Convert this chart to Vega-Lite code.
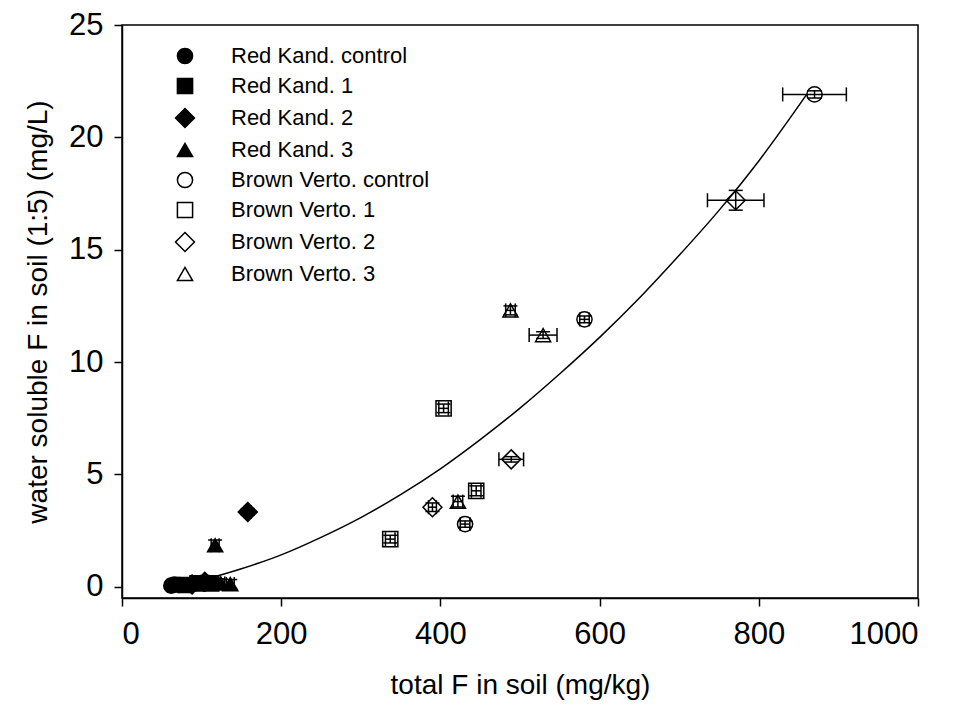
{
  "$schema": "https://vega.github.io/schema/vega-lite/v6.json",
  "width": 796,
  "height": 573,
  "autosize": "none",
  "padding": {"left": 122, "top": 25, "right": 35, "bottom": 112},
  "background": "white",
  "config": {
    "font": "Liberation Sans",
    "view": {"stroke": "black", "strokeWidth": 1.5},
    "axis": {
      "grid": false,
      "domainColor": "black",
      "domainWidth": 1.5,
      "tickColor": "black",
      "tickWidth": 1.5,
      "tickSize": 8,
      "labelColor": "black",
      "labelFontSize": 31,
      "labelFont": "Liberation Sans",
      "titleColor": "black",
      "titleFontSize": 28,
      "titleFont": "Liberation Sans",
      "titleFontWeight": "normal",
      "format": "d"
    }
  },
  "datasets": {
    "pts": [
      {"series": "Red Kand. control", "x": 62, "y": 0.05, "xlo": 57, "xhi": 67, "ylo": -0.1, "yhi": 0.2},
      {"series": "Red Kand. control", "x": 66, "y": 0.1, "xlo": 61, "xhi": 71, "ylo": -0.05, "yhi": 0.25},
      {"series": "Red Kand. control", "x": 72, "y": 0.08, "xlo": 67, "xhi": 77, "ylo": -0.07, "yhi": 0.23},
      {"series": "Red Kand. 1", "x": 80, "y": 0.08, "xlo": 75, "xhi": 85, "ylo": -0.07, "yhi": 0.23},
      {"series": "Red Kand. 1", "x": 95, "y": 0.15, "xlo": 90, "xhi": 100, "ylo": 0.0, "yhi": 0.3},
      {"series": "Red Kand. 1", "x": 112, "y": 0.15, "xlo": 107, "xhi": 117, "ylo": 0.0, "yhi": 0.3},
      {"series": "Red Kand. 2", "x": 158, "y": 3.33, "xlo": 154, "xhi": 162, "ylo": 3.18, "yhi": 3.48},
      {"series": "Red Kand. 2", "x": 88, "y": 0.1, "xlo": 83, "xhi": 93, "ylo": -0.05, "yhi": 0.25},
      {"series": "Red Kand. 2", "x": 104, "y": 0.22, "xlo": 99, "xhi": 109, "ylo": 0.07, "yhi": 0.37},
      {"series": "Red Kand. 3", "x": 117, "y": 1.85, "xlo": 112, "xhi": 122, "ylo": 1.62, "yhi": 2.08},
      {"series": "Red Kand. 3", "x": 124, "y": 0.15, "xlo": 119, "xhi": 129, "ylo": -0.05, "yhi": 0.35},
      {"series": "Red Kand. 3", "x": 136, "y": 0.12, "xlo": 131, "xhi": 141, "ylo": -0.08, "yhi": 0.32},
      {"series": "Brown Verto. control", "x": 431, "y": 2.79, "xlo": 425, "xhi": 437, "ylo": 2.65, "yhi": 2.93},
      {"series": "Brown Verto. control", "x": 581, "y": 11.9, "xlo": 575, "xhi": 587, "ylo": 11.75, "yhi": 12.05},
      {"series": "Brown Verto. control", "x": 870, "y": 21.91, "xlo": 830, "xhi": 910, "ylo": 21.75, "yhi": 22.07},
      {"series": "Brown Verto. 1", "x": 337, "y": 2.12, "xlo": 331, "xhi": 343, "ylo": 1.95, "yhi": 2.29},
      {"series": "Brown Verto. 1", "x": 404, "y": 7.94, "xlo": 398, "xhi": 410, "ylo": 7.75, "yhi": 8.13},
      {"series": "Brown Verto. 1", "x": 445, "y": 4.27, "xlo": 439, "xhi": 451, "ylo": 4.05, "yhi": 4.49},
      {"series": "Brown Verto. 2", "x": 390, "y": 3.54, "xlo": 385, "xhi": 395, "ylo": 3.35, "yhi": 3.73},
      {"series": "Brown Verto. 2", "x": 489, "y": 5.67, "xlo": 473.5, "xhi": 504.5, "ylo": 5.55, "yhi": 5.79},
      {"series": "Brown Verto. 2", "x": 771, "y": 17.2, "xlo": 735.5, "xhi": 806.5, "ylo": 16.76, "yhi": 17.64},
      {"series": "Brown Verto. 3", "x": 422, "y": 3.79, "xlo": 416, "xhi": 428, "ylo": 3.55, "yhi": 4.03},
      {"series": "Brown Verto. 3", "x": 488, "y": 12.3, "xlo": 482, "xhi": 494, "ylo": 12.1, "yhi": 12.5},
      {"series": "Brown Verto. 3", "x": 529, "y": 11.2, "xlo": 511.5, "xhi": 546.5, "ylo": 11.05, "yhi": 11.35}
    ],
    "curve": [
      {"x": 105, "y": 0.33},
      {"x": 150, "y": 0.8},
      {"x": 200, "y": 1.42},
      {"x": 250, "y": 2.2},
      {"x": 300, "y": 3.08},
      {"x": 350, "y": 4.1},
      {"x": 400, "y": 5.25},
      {"x": 450, "y": 6.55},
      {"x": 500, "y": 7.95},
      {"x": 550, "y": 9.48},
      {"x": 600, "y": 11.1},
      {"x": 650, "y": 12.85},
      {"x": 700, "y": 14.75},
      {"x": 750, "y": 16.75},
      {"x": 800, "y": 18.95},
      {"x": 860, "y": 21.9}
    ]
  },
  "layer": [
    {
      "data": {"name": "curve"},
      "mark": {"type": "line", "color": "black", "strokeWidth": 1.5, "interpolate": "monotone"},
      "encoding": {
        "x": {"field": "x", "type": "quantitative", "scale": {"domain": [0, 1000], "nice": false, "zero": false},
          "axis": {"values": [0, 200, 400, 600, 800, 1000], "title": "total F in soil (mg/kg)", "labelPadding": 13, "titlePadding": 22}},
        "y": {"field": "y", "type": "quantitative", "scale": {"domain": [-0.5, 25], "nice": false, "zero": false},
          "axis": {"values": [0, 5, 10, 15, 20, 25], "title": "water soluble F in soil (1:5) (mg/L)", "labelPadding": 11, "titlePadding": 16}}
      }
    },
    {
      "data": {"name": "pts"},
      "mark": {"type": "rule", "color": "black", "strokeWidth": 1.5},
      "encoding": {
        "x": {"field": "xlo", "type": "quantitative"},
        "x2": {"field": "xhi"},
        "y": {"field": "y", "type": "quantitative"}
      }
    },
    {
      "data": {"name": "pts"},
      "mark": {"type": "tick", "orient": "vertical", "size": 14, "thickness": 1.5, "color": "black", "opacity": 1},
      "encoding": {
        "x": {"field": "xlo", "type": "quantitative"},
        "y": {"field": "y", "type": "quantitative"}
      }
    },
    {
      "data": {"name": "pts"},
      "mark": {"type": "tick", "orient": "vertical", "size": 14, "thickness": 1.5, "color": "black", "opacity": 1},
      "encoding": {
        "x": {"field": "xhi", "type": "quantitative"},
        "y": {"field": "y", "type": "quantitative"}
      }
    },
    {
      "data": {"name": "pts"},
      "mark": {"type": "rule", "color": "black", "strokeWidth": 1.5},
      "encoding": {
        "x": {"field": "x", "type": "quantitative"},
        "y": {"field": "ylo", "type": "quantitative"},
        "y2": {"field": "yhi"}
      }
    },
    {
      "data": {"name": "pts"},
      "mark": {"type": "tick", "orient": "horizontal", "size": 14, "thickness": 1.5, "color": "black", "opacity": 1},
      "encoding": {
        "x": {"field": "x", "type": "quantitative"},
        "y": {"field": "ylo", "type": "quantitative"}
      }
    },
    {
      "data": {"name": "pts"},
      "mark": {"type": "tick", "orient": "horizontal", "size": 14, "thickness": 1.5, "color": "black", "opacity": 1},
      "encoding": {
        "x": {"field": "x", "type": "quantitative"},
        "y": {"field": "yhi", "type": "quantitative"}
      }
    },
    {
      "data": {"name": "pts"},
      "mark": {"type": "point", "stroke": "black", "strokeWidth": 1.5, "opacity": 1, "size": 230},
      "encoding": {
        "x": {"field": "x", "type": "quantitative"},
        "y": {"field": "y", "type": "quantitative"},
        "shape": {
          "field": "series", "type": "nominal",
          "scale": {
            "domain": ["Red Kand. control", "Red Kand. 1", "Red Kand. 2", "Red Kand. 3", "Brown Verto. control", "Brown Verto. 1", "Brown Verto. 2", "Brown Verto. 3"],
            "range": ["circle", "square", "M0,-1.25L1.25,0L0,1.25L-1.25,0Z", "triangle-up", "circle", "square", "M0,-1.25L1.25,0L0,1.25L-1.25,0Z", "triangle-up"]
          },
          "legend": {
            "title": null,
            "orient": "none",
            "legendX": 52,
            "legendY": 20,
            "padding": 0,
            "symbolSize": 230,
            "symbolStrokeWidth": 1.5,
            "labelFontSize": 22,
            "labelFont": "Liberation Sans",
            "labelColor": "black",
            "labelOffset": 35,
            "rowPadding": 8,
            "labelLimit": 400,
            "symbolOpacity": 1,
            "encode": {"symbols": {"update": {"stroke": {"value": "black"}, "strokeWidth": {"value": 1.5}}}}
          }
        },
        "fill": {
          "field": "series", "type": "nominal",
          "scale": {
            "domain": ["Red Kand. control", "Red Kand. 1", "Red Kand. 2", "Red Kand. 3", "Brown Verto. control", "Brown Verto. 1", "Brown Verto. 2", "Brown Verto. 3"],
            "range": ["black", "black", "black", "black", "transparent", "transparent", "transparent", "transparent"]
          },
          "legend": {
            "title": null,
            "orient": "none",
            "legendX": 52,
            "legendY": 20,
            "padding": 0,
            "symbolSize": 230,
            "symbolStrokeWidth": 1.5,
            "labelFontSize": 22,
            "labelFont": "Liberation Sans",
            "labelColor": "black",
            "labelOffset": 35,
            "rowPadding": 8,
            "labelLimit": 400,
            "symbolOpacity": 1,
            "encode": {"symbols": {"update": {"stroke": {"value": "black"}, "strokeWidth": {"value": 1.5}}}}
          }
        }
      }
    }
  ]
}
